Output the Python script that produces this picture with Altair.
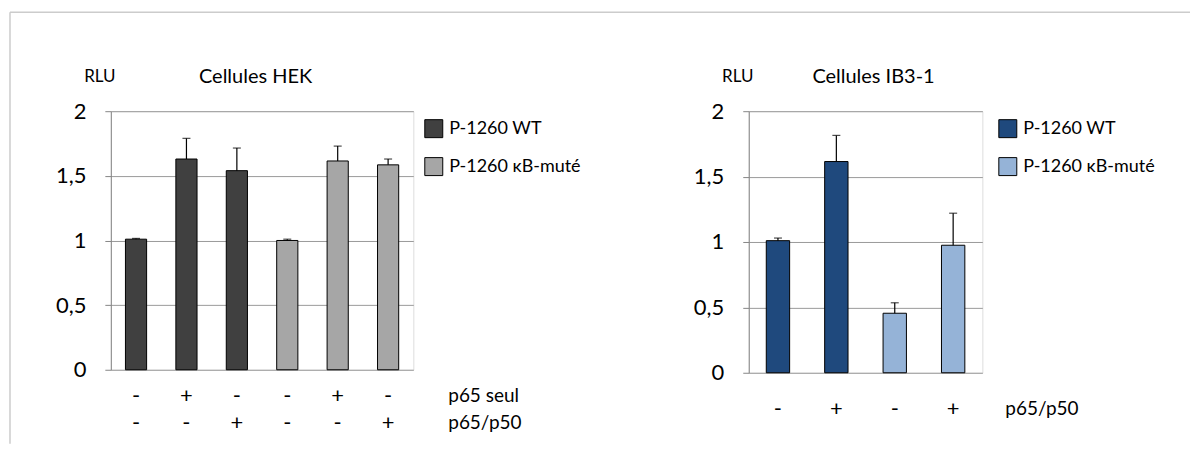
import altair as alt
import pandas as pd

# ---------------- data ----------------
constructs = ["P-1260 WT", "P-1260 κB-muté"]

hek_keys = ["WT1", "WT2", "WT3", "MUT1", "MUT2", "MUT3"]
hek_construct = ["P-1260 WT"] * 3 + ["P-1260 κB-muté"] * 3
hek_values = [1.01, 1.63, 1.54, 1.00, 1.615, 1.585]
hek_errors = [0.006, 0.16, 0.175, 0.01, 0.115, 0.045]
hek_p65_seul = ["-", "+", "-", "-", "+", "-"]
hek_p65_p50 = ["-", "-", "+", "-", "-", "+"]
hek_colors = ["#404040", "#a6a6a6"]

ib3_keys = ["WT1", "WT2", "MUT1", "MUT2"]
ib3_construct = ["P-1260 WT"] * 2 + ["P-1260 κB-muté"] * 2
ib3_values = [1.01, 1.615, 0.455, 0.975]
ib3_errors = [0.02, 0.2, 0.08, 0.245]
ib3_p65_p50 = ["-", "+", "-", "+"]
ib3_colors = ["#1f497d", "#95b3d7"]

y_ticks = [0, 0.5, 1, 1.5, 2]

FONT = "Lato"
GRID = "#9a9a9a"


def panel(keys, construct, values, errors, sign_rows, row_names, colors,
          title, w, h, pad_inner, title_x, row_label_x, legend_x, border):
    df = pd.DataFrame({
        "key": keys,
        "construct": construct,
        "value": values,
        "upper": [v + e for v, e in zip(values, errors)],
    })
    for i, row in enumerate(sign_rows):
        df[f"s{i}"] = row

    x = alt.X("key:N", sort=keys, axis=None,
              scale=alt.Scale(paddingInner=pad_inner, paddingOuter=pad_inner / 2))
    yaxis = alt.Axis(values=y_ticks, title=None, grid=True, gridColor=GRID,
                     gridWidth=1, domainColor="#868686", tickColor="#868686",
                     tickSize=6, labelFontSize=22, labelFont=FONT,
                     labelColor="#000", labelPadding=19,
                     labelExpr="replace(toString(datum.value), '.', ',')")
    yscale = alt.Scale(domain=[0, 2], nice=False)

    base = alt.Chart(df)
    bars = base.mark_bar(stroke="#000", strokeWidth=1).encode(
        x=x,
        y=alt.Y("value:Q", scale=yscale, axis=yaxis),
        color=alt.Color("construct:N",
                        scale=alt.Scale(domain=constructs, range=colors),
                        legend=alt.Legend(orient="none", legendX=legend_x,
                                          legendY=8, title=None,
                                          symbolType="square", symbolSize=324,
                                          symbolStrokeColor="#000",
                                          symbolStrokeWidth=1,
                                          symbolOpacity=1,
                                          labelFontSize=18, labelFont=FONT,
                                          labelColor="#000", rowPadding=15,
                                          labelOffset=6)),
    )
    err = base.mark_rule(color="#000", strokeWidth=1.2).encode(
        x=x, y=alt.Y("value:Q", scale=yscale, axis=yaxis), y2="upper:Q")
    cap = base.mark_tick(color="#000", thickness=1.2, size=8).encode(
        x=x, y=alt.Y("upper:Q", scale=yscale, axis=yaxis))

    layers = [bars, err, cap]
    row_offsets = [h + 26, h + 53] if len(sign_rows) == 2 else [h + 36]
    for i, off in enumerate(row_offsets):
        layers.append(base.mark_text(font=FONT, fontSize=22, color="#000").encode(
            x=x, y=alt.value(off), text=f"s{i}:N"))
        layers.append(alt.Chart(pd.DataFrame({"t": [row_names[i]]})).mark_text(
            font=FONT, fontSize=19, color="#000", align="left").encode(
            x=alt.value(row_label_x), y=alt.value(off), text="t:N"))

    layers.append(alt.Chart(pd.DataFrame({"t": [title]})).mark_text(
        font=FONT, fontSize=20, color="#000").encode(
        x=alt.value(title_x), y=alt.value(-34), text="t:N"))
    layers.append(alt.Chart(pd.DataFrame({"t": ["RLU"]})).mark_text(
        font=FONT, fontSize=17, color="#000").encode(
        x=alt.value(-11), y=alt.value(-34), text="t:N"))

    if border:
        one = pd.DataFrame({"a": [0]})
        layers.append(alt.Chart(one).mark_rule(color="#cccccc", strokeWidth=1.5).encode(
            x=alt.value(-101), x2=alt.value(1081), y=alt.value(-99)))
        layers.append(alt.Chart(one).mark_rule(color="#cccccc", strokeWidth=1.5).encode(
            x=alt.value(-101), y=alt.value(-99), y2=alt.value(333)))

    return alt.layer(*layers).properties(width=w, height=h)


left = panel(hek_keys, hek_construct, hek_values, hek_errors,
             [hek_p65_seul, hek_p65_p50], ["p65 seul", "p65/p50"], hek_colors,
             "Cellules HEK", 303, 259, 0.58, 145, 338, 314, True)
right = panel(ib3_keys, ib3_construct, ib3_values, ib3_errors,
              [ib3_p65_p50], ["p65/p50"], ib3_colors,
              "Cellules IB3-1", 234, 262, 0.6, 125, 257, 250, False)

chart = alt.hconcat(left, right, spacing=336, bounds="flush").resolve_scale(
    color="independent", x="independent", y="independent"
).properties(
    padding={"left": 0, "top": 2, "right": 0, "bottom": 0}
).configure_view(stroke=None).configure(font=FONT)

chart.save("out.html", embed_options={"renderer": "svg", "actions": False})
